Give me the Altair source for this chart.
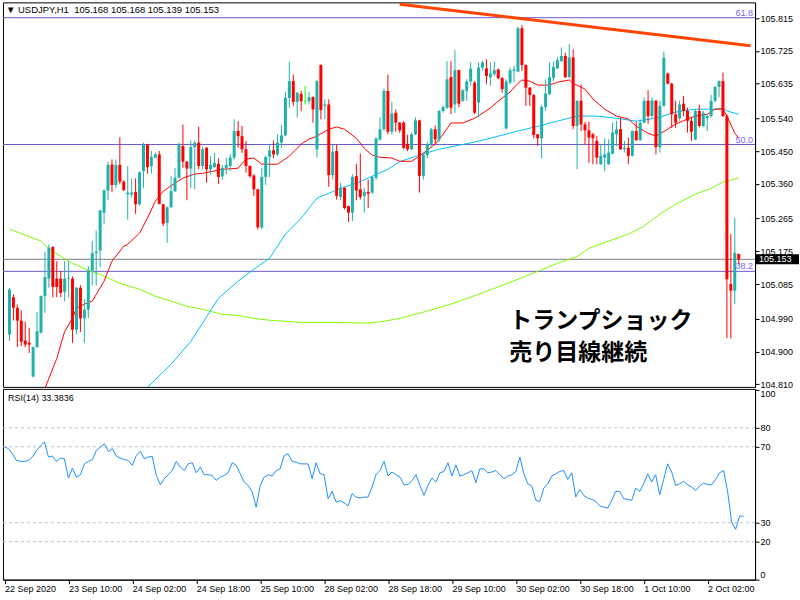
import altair as alt
import pandas as pd

# ---------------- data ----------------
opens = [104.947,105.049,105.020,104.985,104.930,104.924,104.831,104.912,104.952,105.052,
         105.100,105.187,105.100,105.100,105.064,105.100,105.100,104.960,105.075,104.991,
         105.015,105.122,105.170,105.177,105.281,105.342,105.413,105.357,105.412,105.366,
         105.331,105.331,105.338,105.304,105.395,105.468,105.409,105.432,105.441,105.304,
         105.253,105.296,105.340,105.377,105.464,105.421,105.402,105.461,105.473,105.409,
         105.459,105.400,105.406,105.415,105.381,105.404,105.409,105.432,105.505,105.491,
         105.455,105.409,105.383,105.345,105.240,105.379,105.434,105.452,105.441,105.473,
         105.493,105.596,105.642,105.585,105.607,105.587,105.587,105.598,105.455,105.686,
         105.574,105.578,105.384,105.450,105.324,105.349,105.299,105.281,105.381,105.345,
         105.327,105.338,105.336,105.377,105.482,105.510,105.615,105.503,105.555,105.528,
         105.528,105.470,105.455,105.496,105.534,105.382,105.439,105.469,105.510,105.482,
         105.560,105.569,105.653,105.578,105.672,105.588,105.615,105.641,105.638,105.583,
         105.679,105.677,105.652,105.661,105.674,105.650,105.512,105.638,105.670,105.668,
         105.787,105.686,105.624,105.604,105.496,105.485,105.571,105.606,105.651,105.677,
         105.697,105.711,105.653,105.707,105.519,105.588,105.523,105.507,105.496,105.478,
         105.414,105.432,105.414,105.443,105.496,105.510,105.455,105.459,105.437,105.505,
         105.480,105.528,105.588,105.546,105.588,105.461,105.574,105.663,105.635,105.551,
         105.540,105.580,105.560,105.533,105.482,105.560,105.519,105.540,105.546,105.588,
         105.626,105.642,105.546,105.085,105.067,105.168]
highs = [105.075,105.057,105.029,105.013,104.982,104.965,104.914,105.009,105.054,105.174,
         105.194,105.189,105.148,105.121,105.148,105.148,105.106,105.077,105.082,105.043,
         105.134,105.203,105.232,105.289,105.345,105.421,105.427,105.427,105.488,105.370,
         105.409,105.375,105.375,105.394,105.473,105.470,105.450,105.446,105.450,105.305,
         105.298,105.381,105.404,105.473,105.523,105.423,105.479,105.479,105.517,105.462,
         105.461,105.436,105.445,105.430,105.412,105.432,105.441,105.537,105.532,105.519,
         105.477,105.411,105.386,105.347,105.404,105.436,105.468,105.479,105.496,105.521,
         105.613,105.695,105.660,105.612,105.615,105.628,105.613,105.600,105.645,105.688,
         105.592,105.592,105.468,105.467,105.363,105.351,105.300,105.386,105.415,105.443,
         105.349,105.372,105.381,105.487,105.543,105.622,105.660,105.585,105.564,105.530,
         105.532,105.495,105.501,105.542,105.536,105.446,105.475,105.514,105.520,105.562,
         105.575,105.697,105.697,105.727,105.674,105.620,105.647,105.693,105.642,105.693,
         105.697,105.702,105.693,105.695,105.676,105.653,105.647,105.679,105.684,105.791,
         105.796,105.688,105.626,105.606,105.497,105.577,105.647,105.693,105.695,105.708,
         105.734,105.720,105.743,105.729,105.590,105.633,105.530,105.531,105.500,105.491,
         105.469,105.485,105.482,105.528,105.533,105.542,105.478,105.487,105.507,105.531,
         105.537,105.597,105.617,105.597,105.590,105.588,105.723,105.665,105.637,105.588,
         105.588,105.601,105.569,105.542,105.565,105.577,105.560,105.551,105.604,105.629,
         105.644,105.665,105.551,105.222,105.267,105.168]
lows = [104.929,104.985,104.912,104.915,104.912,104.896,104.829,104.910,104.949,105.006,
        105.075,105.049,105.049,105.049,105.038,105.049,104.924,104.947,104.954,104.924,
        104.992,105.081,105.081,105.132,105.249,105.315,105.338,105.349,105.359,105.340,
        105.262,105.322,105.278,105.300,105.349,105.388,105.388,105.430,105.304,105.244,
        105.198,105.294,105.338,105.375,105.404,105.315,105.349,105.345,105.400,105.400,
        105.363,105.386,105.404,105.360,105.372,105.386,105.395,105.427,105.459,105.445,
        105.391,105.377,105.327,105.235,105.236,105.357,105.379,105.430,105.436,105.459,
        105.491,105.569,105.574,105.542,105.560,105.578,105.578,105.528,105.432,105.537,
        105.537,105.352,105.372,105.317,105.315,105.290,105.256,105.258,105.315,105.317,
        105.281,105.294,105.333,105.370,105.479,105.505,105.496,105.496,105.503,105.500,
        105.455,105.450,105.452,105.494,105.336,105.372,105.430,105.460,105.470,105.475,
        105.555,105.565,105.551,105.555,105.571,105.585,105.588,105.629,105.551,105.542,
        105.670,105.633,105.629,105.656,105.647,105.610,105.510,105.633,105.638,105.666,
        105.670,105.574,105.574,105.485,105.464,105.430,105.560,105.604,105.642,105.675,
        105.695,105.650,105.651,105.510,105.400,105.505,105.469,105.418,105.414,105.414,
        105.412,105.395,105.412,105.441,105.464,105.453,105.446,105.414,105.435,105.478,
        105.478,105.526,105.525,105.540,105.441,105.446,105.572,105.633,105.514,105.514,
        105.533,105.546,105.501,105.478,105.480,105.515,105.515,105.505,105.542,105.583,
        105.598,105.544,104.937,104.936,105.030,105.139]
closes = [105.070,105.020,104.985,104.927,104.919,104.919,104.912,104.956,105.052,105.104,
          105.185,105.077,105.077,105.061,105.100,105.102,104.960,105.075,104.991,105.015,
          105.122,105.170,105.174,105.287,105.342,105.412,105.357,105.412,105.366,105.343,
          105.336,105.336,105.304,105.392,105.468,105.406,105.434,105.441,105.305,105.251,
          105.296,105.340,105.377,105.468,105.421,105.402,105.461,105.473,105.409,105.455,
          105.400,105.412,105.418,105.379,105.404,105.412,105.432,105.505,105.491,105.455,
          105.409,105.381,105.345,105.241,105.379,105.434,105.452,105.441,105.473,105.493,
          105.596,105.642,105.585,105.610,105.587,105.587,105.598,105.564,105.642,105.562,
          105.578,105.384,105.448,105.327,105.349,105.294,105.281,105.379,105.342,105.324,
          105.338,105.333,105.379,105.485,105.510,105.615,105.503,105.553,105.528,105.507,
          105.459,105.455,105.496,105.534,105.382,105.439,105.469,105.510,105.482,105.560,
          105.571,105.647,105.569,105.672,105.580,105.617,105.641,105.676,105.555,105.679,
          105.693,105.656,105.663,105.672,105.650,105.620,105.641,105.672,105.674,105.787,
          105.686,105.624,105.604,105.494,105.485,105.571,105.608,105.653,105.681,105.699,
          105.711,105.653,105.707,105.519,105.588,105.523,105.507,105.487,105.485,105.432,
          105.437,105.441,105.446,105.501,105.510,105.455,105.459,105.437,105.505,105.480,
          105.528,105.588,105.546,105.589,105.461,105.574,105.706,105.635,105.551,105.528,
          105.578,105.560,105.533,105.503,105.560,105.519,105.555,105.546,105.588,105.626,
          105.642,105.546,105.098,105.067,105.171,105.153]

red_ma_idx = [7,12,14,16,17,19,21,24,26,29,30,33,35,37,39,42,44,47,49,54,58,60,62,64,68,71,74,76,78,81,
              83,85,88,90,92,94,97,99,102,104,108,110,112,115,118,122,124,127,129,130,132,134,137,139,
              142,143,146,148,151,154,157,159,162,164,167,169,172,174,177,179,181,182,184,185]
red_ma_val = [104.744,104.881,104.955,104.991,105.019,105.030,105.038,105.093,105.148,105.189,
              105.194,105.225,105.266,105.312,105.340,105.362,105.376,105.387,105.389,105.400,
              105.403,105.428,105.431,105.414,105.414,105.436,105.469,105.483,105.491,105.510,
              105.516,105.510,105.485,105.458,105.439,105.433,105.431,105.422,105.422,105.436,
              105.469,105.496,105.527,105.527,105.540,105.568,105.587,105.612,105.636,105.645,
              105.642,105.631,105.631,105.639,105.645,105.636,105.620,105.593,105.565,105.546,
              105.538,105.518,105.499,105.491,105.510,105.524,105.538,105.546,105.551,105.565,
              105.565,105.546,105.499,105.485]
blue_ma_idx = [32,41,46,49,53,58,62,66,70,74,78,81,84,88,92,96,99,104,109,114,119,124,129,134,139,
               144,149,154,159,164,169,174,179,181,182,185]
blue_ma_val = [104.770,104.865,104.928,104.978,105.046,105.093,105.126,105.156,105.222,105.266,
               105.321,105.334,105.348,105.362,105.381,105.400,105.421,105.439,105.455,105.466,
               105.477,105.491,105.505,105.518,105.532,105.546,105.546,105.540,105.532,105.540,
               105.557,105.565,105.565,105.568,105.560,105.551]
green_ma_idx = [0,8,10,16,20,24,28,33,37,41,45,49,54,58,62,66,74,82,91,95,99,104,112,119,127,134,
                139,144,147,152,157,161,165,169,174,178,181,185]
green_ma_val = [105.236,105.203,105.181,105.142,105.123,105.107,105.087,105.071,105.052,105.038,
                105.024,105.016,105.002,104.999,104.991,104.986,104.980,104.980,104.978,104.983,
                104.991,105.005,105.030,105.057,105.090,105.120,105.142,105.161,105.183,105.203,
                105.222,105.244,105.277,105.304,105.332,105.348,105.365,105.376]

rsi_vals = [70,69,66.3,62.8,62.3,62.3,62.8,64.6,68,70.4,
            72.5,64.6,65.1,62.3,64,63.7,53.5,58.8,54,55.3,
            61,62.3,63.3,68,69.8,71.6,67.5,69,65.1,64,
            63.3,62.8,60.2,65.4,67.7,63.7,64.6,64.9,54.9,50,
            53.2,55.3,57.5,62.3,59.3,57.5,61,61.6,56.3,59.3,
            55.3,55.3,54.9,52.3,54,54.9,56.3,61.6,60.2,55.8,
            51.4,49.6,46.1,38.2,49.6,54,55.3,54.6,57.5,58.4,
            65.4,66.3,62.3,61.9,61,61,61,53.2,61.6,55.8,
            55.3,42.6,46.5,40.9,41.6,40.5,38.8,45.3,43.5,43,
            43.5,43.5,48.8,55.3,57.5,62.3,54.6,56.7,55.3,54,
            50,50,52.3,55.3,49.6,44.4,49.6,53.5,51.4,56.3,
            57,61.6,54.6,60.5,54.6,55.3,56.3,57.5,51,58.4,
            58.4,56.3,56.7,57.5,55.3,53.2,54.6,55.3,57,64.6,
            55.8,50.5,49.3,41.8,41.2,48.2,50.5,54.6,55.8,57,
            57.5,52.8,56.3,43.5,47.5,44.4,43,42.3,41.2,38.8,
            38.2,37.7,41.8,46.5,46.5,42.6,42.3,41.8,48.2,46.5,
            50.5,55.8,51.4,55.3,44.7,52.8,61,56.7,49.6,50.5,
            51.8,50,48.8,47,49.3,51,50,50,52.8,56.3,
            57.5,46.5,30.4,26.5,33.5,33.3836]

time_labels = ["22 Sep 2020", "23 Sep 10:00", "24 Sep 02:00", "24 Sep 18:00", "25 Sep 10:00",
               "28 Sep 02:00", "28 Sep 18:00", "29 Sep 10:00", "30 Sep 02:00", "30 Sep 18:00",
               "1 Oct 10:00", "2 Oct 02:00"]
tick_idx = [0, 16, 32, 48, 64, 80, 96, 112, 128, 144, 160, 176]
price_ticks = [105.815, 105.725, 105.635, 105.540, 105.450, 105.360, 105.265, 105.175,
               105.085, 104.990, 104.900, 104.810]
rsi_ticks = [0, 20, 30, 70, 80, 100]
rsi_levels = [80, 70, 30, 20]
fib_labels = ["38.2", "50.0", "61.8"]
fib_prices = [105.120, 105.468, 105.816]
bid = [105.153]
trend_idx = [99, 188]
trend_price = [105.853, 105.739]
symbol = "USDJPY,H1"
caption = ["トランプショック", "売り目線継続"]

# ---------------- chart ----------------
FONT = "Liberation Sans"
n = len(opens)
candles = pd.DataFrame({"i": list(range(n)), "o": opens, "h": highs, "l": lows, "c": closes})
candles["dir"] = ["up" if c > o else ("down" if c < o else "flat") for o, c in zip(opens, closes)]

XS = alt.Scale(domain=[-0.375, 187.875], nice=False, zero=False)
YS = alt.Scale(domain=[104.803, 105.858], nice=False, zero=False)
RS = alt.Scale(domain=[0, 100.5], nice=False, zero=False)
CS = alt.Scale(domain=["up", "down", "flat"], range=["#20B2AA", "#FF0000", "#00FF00"])

y_axis = alt.Axis(orient="right", values=price_ticks, format=".3f", tickSize=4, labelPadding=1,
                  labelFont=FONT, labelFontSize=9, labelColor="black", tickColor="black",
                  domainColor="black", grid=False, title=None, labelOverlap=False, labelBound=False)
labels_js = "[" + ",".join("'%s'" % t for t in time_labels) + "]"
ticks_js = "[" + ",".join(str(t) for t in tick_idx) + "]"
x_axis = alt.Axis(orient="bottom", values=tick_idx, labelExpr=f"{labels_js}[indexof({ticks_js}, datum.value)]",
                  labelAlign="left", tickSize=4, labelPadding=1, labelFont=FONT, labelFontSize=9,
                  labelColor="black", tickColor="black", domainColor="black", grid=False, title=None,
                  labelOverlap=False, labelBound=False, labelFlush=False)
r_axis = alt.Axis(orient="right", values=rsi_ticks, format="d", tickSize=4, labelPadding=1,
                  labelFont=FONT, labelFontSize=9, labelColor="black", tickColor="black",
                  domainColor="black", grid=False, title=None, labelOverlap=False, labelFlush=3)


def X(f="i"):
    return alt.X(f"{f}:Q", scale=XS, axis=None)


def Y(f):
    return alt.Y(f"{f}:Q", scale=YS, axis=y_axis)


fib_df = pd.DataFrame({"lvl": fib_labels, "p": fib_prices})
fib_rules = alt.Chart(fib_df).mark_rule(color="#6A5ACD", strokeWidth=1).encode(y=Y("p"))
fib_text = alt.Chart(fib_df).mark_text(align="right", baseline="alphabetic", dy=-2, font=FONT,
                                       fontSize=9, color="#7B68EE").encode(
    x=alt.value(751), y=Y("p"), text="lvl:N")

bid_df = pd.DataFrame({"p": bid})
bid_rule = alt.Chart(bid_df).mark_rule(color="#808080", strokeWidth=1).encode(y=Y("p"))


def ma(idx, vals, color):
    return alt.Chart(pd.DataFrame({"i": idx, "p": vals})).mark_line(
        color=color, strokeWidth=1, clip=True).encode(x=X(), y=Y("p"))


green = ma(green_ma_idx, green_ma_val, "#7CFC00")
blue = ma(blue_ma_idx, blue_ma_val, "#00BFFF")
red = ma(red_ma_idx, red_ma_val, "#FF0000")

color_enc = alt.Color("dir:N", scale=CS, legend=None)
wicks = alt.Chart(candles).mark_rule(strokeWidth=1).encode(x=X(), y=Y("l"), y2="h:Q", color=color_enc)
bodies = alt.Chart(candles).mark_bar(size=3).encode(x=X(), y=Y("o"), y2="c:Q", color=color_enc)
dojis = alt.Chart(candles).transform_filter(alt.datum.dir == "flat").mark_tick(
    orient="horizontal", size=3, thickness=1).encode(x=X(), y=Y("c"), color=color_enc)

trend = alt.Chart(pd.DataFrame({"i": trend_idx, "p": trend_price})).mark_line(
    color="#FF4500", strokeWidth=3, clip=True).encode(x=X(), y=Y("p"))

header_txt = (f"\u25BC {symbol}\u00a0\u00a0{opens[-1]:.3f} {highs[-1]:.3f} "
              f"{lows[-1]:.3f} {closes[-1]:.3f}")
header = alt.Chart(pd.DataFrame({"t": [header_txt]})).mark_text(
    align="left", baseline="middle", font=FONT, fontSize=9.5, color="black").encode(
    x=alt.value(3), y=alt.value(8), text="t:N")

jp1 = alt.Chart(pd.DataFrame({"t": [caption[0]]})).mark_text(
    align="left", baseline="middle", font="Noto Sans CJK JP", fontSize=23, fontWeight="bold",
    color="black").encode(x=alt.value(507), y=alt.value(319), text="t:N")
jp2 = alt.Chart(pd.DataFrame({"t": [caption[1]]})).mark_text(
    align="left", baseline="middle", font="Noto Sans CJK JP", fontSize=23, fontWeight="bold",
    color="black").encode(x=alt.value(507), y=alt.value(351), text="t:N")

bid_box = alt.Chart(bid_df).mark_rect(color="black", yOffset=-5, y2Offset=5).encode(
    x=alt.value(753), x2=alt.value(797), y=Y("p"), y2="p:Q")
bid_text = alt.Chart(bid_df).mark_text(align="left", baseline="middle", font=FONT, fontSize=9,
                                       color="white").encode(
    x=alt.value(757), y=Y("p"), text=alt.Text("p:Q", format=".3f"))

main = alt.layer(fib_rules, fib_text, bid_rule, green, blue, red, wicks, bodies, dojis, trend,
                 header, jp1, jp2, bid_box, bid_text).properties(width=753, height=385)

rsi_df = pd.DataFrame({"i": list(range(n)), "r": rsi_vals})
rsi_lv = alt.Chart(pd.DataFrame({"v": rsi_levels})).mark_rule(
    color="#C0C0C0", strokeDash=[3, 3], strokeWidth=1).encode(y=alt.Y("v:Q", scale=RS, axis=r_axis))
rsi_line = alt.Chart(rsi_df).mark_line(color="#1E90FF", strokeWidth=1).encode(
    x=alt.X("i:Q", scale=XS, axis=x_axis), y=alt.Y("r:Q", scale=RS, axis=r_axis))
rsi_label = alt.Chart(pd.DataFrame({"t": [f"RSI(14) {rsi_vals[-1]:.4f}"]})).mark_text(
    align="left", baseline="middle", font=FONT, fontSize=9, color="black").encode(
    x=alt.value(5), y=alt.value(9), text="t:N")
rsi = alt.layer(rsi_lv, rsi_line, rsi_label).properties(width=753, height=191)

chart = alt.vconcat(main, rsi, spacing=2, bounds="flush").properties(
    padding={"left": 2, "top": 1, "right": 0, "bottom": 0},
    background="white",
).configure_view(stroke="black", strokeWidth=1)

chart.save("out.html", embed_options={"renderer": "svg", "actions": False})
